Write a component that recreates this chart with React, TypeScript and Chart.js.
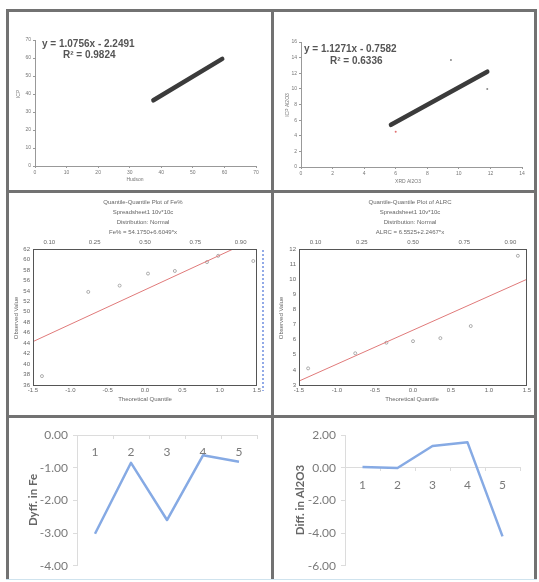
import React, { useEffect, useRef } from "react";
import { Chart, registerables } from "chart.js";

Chart.register(...registerables);

// ---------- data ----------
const feTrendX = [37.5, 59.3];
const feTrendY = [36.5, 59.5];
const feXTicks = [0, 10, 20, 30, 40, 50, 60, 70];

const alTrendX = [5.7, 11.8];
const alTrendY = [5.4, 12.2];
const alOutlierX = [9.5, 11.8];
const alOutlierY = [13.7, 10.0];
const alRedX = [6.0];
const alRedY = [4.5];

const feQQx = [-1.38, -0.76, -0.34, 0.04, 0.4, 0.83, 0.98, 1.45];
const feQQy = [37.7, 53.8, 55.0, 57.3, 57.8, 59.5, 60.7, 59.7];
const feQQLineX = [-1.5, 1.5];
const feQQLineY = [44.3, 64.1];

const alQQx = [-1.38, -0.76, -0.35, 0.0, 0.36, 0.76, 1.38];
const alQQy = [4.1, 5.1, 5.8, 5.9, 6.1, 6.9, 11.55];
const alQQLineX = [-1.5, 1.5];
const alQQLineY = [3.26, 10.0];

const probLabels = ["0.10", "0.25", "0.50", "0.75", "0.90"];
const probZ = [-1.2816, -0.6745, 0, 0.6745, 1.2816];

const diffCats = ["1", "2", "3", "4", "5"];
const feDiff = [-3.02, -0.85, -2.6, -0.62, -0.82];
const alDiff = [0.05, -0.02, 1.33, 1.55, -4.2];

// ---------- helpers ----------
const pts = (xs: number[], ys: number[]) => xs.map((x, i) => ({ x, y: ys[i] }));

type TextItem = {
  text: string;
  x: number;
  y: number;
  font: string;
  color: string;
  align?: CanvasTextAlign;
  rotate?: number;
};

const textPlugin = (items: TextItem[]) => ({
  id: "texts",
  afterDraw(chart: any) {
    const ctx = chart.ctx;
    items.forEach((t) => {
      ctx.save();
      ctx.translate(t.x, t.y);
      if (t.rotate) ctx.rotate(t.rotate);
      ctx.font = t.font;
      ctx.fillStyle = t.color;
      ctx.textAlign = t.align ?? "center";
      ctx.textBaseline = "middle";
      ctx.fillText(t.text, 0, 0);
      ctx.restore();
    });
  },
});

const framePlugin = {
  id: "frame",
  afterDraw(chart: any) {
    const { ctx, chartArea: a } = chart;
    ctx.save();
    ctx.strokeStyle = "#555";
    ctx.lineWidth = 1;
    ctx.strokeRect(a.left + 0.5, a.top + 0.5, a.right - a.left - 1, a.bottom - a.top);
    ctx.restore();
  },
};

const blueMarkPlugin = {
  id: "blueMark",
  afterDraw(chart: any) {
    const { ctx, chartArea: a } = chart;
    ctx.save();
    ctx.strokeStyle = "#6f8fe0";
    ctx.lineWidth = 1.5;
    ctx.setLineDash([2, 2]);
    ctx.beginPath();
    ctx.moveTo(a.right + 6, a.top + 1);
    ctx.lineTo(a.right + 6, a.bottom + 6);
    ctx.stroke();
    ctx.restore();
  },
};

function ChartBox(props: { left: number; top: number; width: number; height: number; make: () => any }) {
  const ref = useRef<HTMLCanvasElement>(null);
  useEffect(() => {
    const c = new Chart(ref.current as HTMLCanvasElement, props.make());
    return () => c.destroy();
  }, []);
  return (
    <canvas
      ref={ref}
      width={props.width}
      height={props.height}
      style={{ position: "absolute", left: props.left, top: props.top, width: props.width, height: props.height }}
    />
  );
}

const tinyFont = { family: "Liberation Sans", size: 5 };
const qFont = { family: "Liberation Sans", size: 6 };
const xlFont = { family: "Lato", size: 12 };

const base = {
  animation: false,
  responsive: false,
  maintainAspectRatio: false,
};

// ---------- panel configs ----------
function scatterFe() {
  return {
    type: "scatter",
    data: {
      datasets: [
        {
          type: "line",
          data: pts(feTrendX, feTrendY),
          borderColor: "#3b3b3b",
          borderWidth: 4.5,
          borderCapStyle: "round",
          pointRadius: 0,
        },
      ],
    },
    options: {
      ...base,
      layout: { padding: { left: 0, top: 28, right: 15, bottom: 0 } },
      plugins: { legend: { display: false }, tooltip: { enabled: false } },
      scales: {
        x: {
          type: "linear",
          min: 0,
          max: 70,
          afterBuildTicks: (s: any) => {
            s.ticks = feXTicks.map((v) => ({ value: v }));
          },
          ticks: { font: tinyFont, color: "#777", padding: 2 },
          grid: { drawOnChartArea: false, tickLength: 2, color: "#999" },
          border: { color: "#999" },
          afterFit: (s: any) => {
            s.height = 24;
          },
        },
        y: {
          min: 0,
          max: 70,
          ticks: { stepSize: 10, font: tinyFont, color: "#777", padding: 2 },
          grid: { drawOnChartArea: false, tickLength: 2, color: "#999" },
          border: { color: "#999" },
          afterFit: (s: any) => {
            s.width = 25;
          },
        },
      },
    },
    plugins: [
      textPlugin([
        { text: "y = 1.0756x - 2.2491", x: 32, y: 32, font: "bold 10px 'Liberation Sans'", color: "#555", align: "left" },
        { text: "R² = 0.9824", x: 53, y: 43, font: "bold 10px 'Liberation Sans'", color: "#555", align: "left" },
        { text: "Hudson", x: 125, y: 168, font: "5px 'Liberation Sans'", color: "#777" },
        { text: "ICP", x: 9, y: 82, font: "5px 'Liberation Sans'", color: "#777", rotate: -Math.PI / 2 },
      ]),
    ],
  };
}

function scatterAl() {
  return {
    type: "scatter",
    data: {
      datasets: [
        {
          type: "line",
          data: pts(alTrendX, alTrendY),
          borderColor: "#3b3b3b",
          borderWidth: 4.5,
          borderCapStyle: "round",
          pointRadius: 0,
        },
        {
          data: pts(alOutlierX, alOutlierY),
          pointRadius: 1,
          pointBackgroundColor: "#888",
          pointBorderWidth: 0,
        },
        {
          data: pts(alRedX, alRedY),
          pointRadius: 1,
          pointBackgroundColor: "#e07070",
          pointBorderWidth: 0,
        },
      ],
    },
    options: {
      ...base,
      layout: { padding: { left: 0, top: 30, right: 12, bottom: 0 } },
      plugins: { legend: { display: false }, tooltip: { enabled: false } },
      scales: {
        x: {
          type: "linear",
          min: 0,
          max: 14,
          ticks: { stepSize: 2, font: tinyFont, color: "#777", padding: 2 },
          grid: { drawOnChartArea: false, tickLength: 2, color: "#999" },
          border: { color: "#999" },
          afterFit: (s: any) => {
            s.height = 23;
          },
        },
        y: {
          min: 0,
          max: 16,
          ticks: { stepSize: 2, font: tinyFont, color: "#777", padding: 2 },
          grid: { drawOnChartArea: false, tickLength: 2, color: "#999" },
          border: { color: "#999" },
          afterFit: (s: any) => {
            s.width = 26;
          },
        },
      },
    },
    plugins: [
      textPlugin([
        { text: "y = 1.1271x - 0.7582", x: 29, y: 37, font: "bold 10px 'Liberation Sans'", color: "#555", align: "left" },
        { text: "R² = 0.6336", x: 55, y: 49, font: "bold 10px 'Liberation Sans'", color: "#555", align: "left" },
        { text: "XRD Al2O3", x: 133, y: 170, font: "5px 'Liberation Sans'", color: "#777" },
        { text: "ICP Al2O3", x: 13, y: 93, font: "5px 'Liberation Sans'", color: "#777", rotate: -Math.PI / 2 },
      ]),
    ],
  };
}

function qqConfig(opts: {
  px: number[];
  py: number[];
  lx: number[];
  ly: number[];
  ymin: number;
  ymax: number;
  ystep: number;
  yWidth: number;
  rightPad: number;
  titles: string[];
  cx: number;
  extra?: any[];
}) {
  const yt = (v: number) => String(v);
  return {
    type: "scatter",
    data: {
      datasets: [
        {
          type: "line",
          data: pts(opts.lx, opts.ly),
          borderColor: "#e07a7a",
          borderWidth: 1,
          pointRadius: 0,
        },
        {
          data: pts(opts.px, opts.py),
          pointRadius: 1.5,
          pointBackgroundColor: "rgba(0,0,0,0)",
          pointBorderColor: "#999",
          pointBorderWidth: 0.8,
        },
      ],
    },
    options: {
      ...base,
      layout: { padding: { left: 0, top: 45, right: opts.rightPad, bottom: 0 } },
      plugins: { legend: { display: false }, tooltip: { enabled: false } },
      scales: {
        x: {
          type: "linear",
          min: -1.5,
          max: 1.5,
          ticks: { stepSize: 0.5, font: qFont, color: "#666", padding: 2, callback: (v: any) => Number(v).toFixed(1) },
          grid: { drawOnChartArea: false, drawTicks: false },
          border: { display: false },
          afterFit: (s: any) => {
            s.height = 30;
          },
        },
        x2: {
          type: "linear",
          axis: "x",
          position: "top",
          min: -1.5,
          max: 1.5,
          afterBuildTicks: (s: any) => {
            s.ticks = probZ.map((v) => ({ value: v }));
          },
          ticks: { font: qFont, color: "#666", padding: 3, autoSkip: false, maxRotation: 0, callback: (_v: any, i: number) => probLabels[i] },
          grid: { drawOnChartArea: false, drawTicks: false },
          border: { display: false },
          afterFit: (s: any) => {
            s.height = 10;
          },
        },
        y: {
          min: opts.ymin,
          max: opts.ymax,
          ticks: { stepSize: opts.ystep, font: qFont, color: "#666", padding: 3, callback: yt },
          grid: { drawOnChartArea: false, drawTicks: false },
          border: { display: false },
          afterFit: (s: any) => {
            s.width = opts.yWidth;
          },
        },
      },
    },
    plugins: [
      framePlugin,
      ...(opts.extra ?? []),
      textPlugin([
        ...opts.titles.map((t, i) => ({
          text: t,
          x: opts.cx,
          y: 8 + i * 10,
          font: "6px 'Liberation Sans'",
          color: "#666",
        })),
        { text: "Theoretical Quantile", x: opts.cx + 2, y: 205, font: "6px 'Liberation Sans'", color: "#666" },
        { text: "Observed Value", x: 6, y: 124, font: "6px 'Liberation Sans'", color: "#666", rotate: -Math.PI / 2 },
      ]),
    ],
  };
}

function diffConfig(opts: { values: number[]; ymin: number; ymax: number; ystep: number; yWidth: number; title: string; tx: number }) {
  return {
    type: "line",
    data: {
      labels: diffCats,
      datasets: [
        {
          data: opts.values,
          borderColor: "#86aae4",
          borderWidth: 2.5,
          borderJoinStyle: "round",
          pointRadius: 0,
          tension: 0,
        },
      ],
    },
    options: {
      ...base,
      layout: { padding: { left: 0, top: 16, right: 14, bottom: 12 } },
      plugins: { legend: { display: false }, tooltip: { enabled: false } },
      scales: {
        x: {
          type: "category",
          position: { y: 0 },
          offset: true,
          ticks: { font: xlFont, color: "#7a7a7a", padding: 7 },
          grid: { drawOnChartArea: false, tickLength: 3, color: "#dcdcdc", offset: true },
          border: { color: "#dcdcdc" },
        },
        y: {
          min: opts.ymin,
          max: opts.ymax,
          ticks: { stepSize: opts.ystep, font: xlFont, color: "#7a7a7a", padding: 5, callback: (v: any) => Number(v).toFixed(2) },
          grid: { drawOnChartArea: false, tickLength: 4, color: "#dcdcdc" },
          border: { color: "#dcdcdc" },
          afterFit: (s: any) => {
            s.width = opts.yWidth;
          },
        },
      },
    },
    plugins: [
      textPlugin([
        { text: opts.title, x: opts.tx, y: 81, font: "bold 11.5px Lato", color: "#666", rotate: -Math.PI / 2 },
      ]),
    ],
  };
}

// ---------- layout ----------
const BORDER = "#727272";

export default function App() {
  return (
    <div style={{ position: "absolute", left: 0, top: 0, width: 539, height: 582, background: "#fff", overflow: "hidden" }}>
      <ChartBox left={10} top={12} width={261} height={178} make={scatterFe} />
      <ChartBox left={275} top={12} width={259} height={178} make={scatterAl} />
      <ChartBox
        left={10}
        top={194}
        width={261}
        height={221}
        make={() =>
          qqConfig({
            px: feQQx,
            py: feQQy,
            lx: feQQLineX,
            ly: feQQLineY,
            ymin: 36,
            ymax: 62,
            ystep: 2,
            yWidth: 23,
            rightPad: 14,
            titles: ["Quantile-Quantile Plot of Fe%", "Spreadsheet1 10v*10c", "Distribution: Normal", "Fe% = 54.1750+6.6049*x"],
            cx: 133,
            extra: [blueMarkPlugin],
          })
        }
      />
      <ChartBox
        left={275}
        top={194}
        width={259}
        height={221}
        make={() =>
          qqConfig({
            px: alQQx,
            py: alQQy,
            lx: alQQLineX,
            ly: alQQLineY,
            ymin: 3,
            ymax: 12,
            ystep: 1,
            yWidth: 24,
            rightPad: 7,
            titles: ["Quantile-Quantile Plot of ALRC", "Spreadsheet1 10v*10c", "Distribution: Normal", "ALRC = 6.5525+2.2467*x"],
            cx: 135,
          })
        }
      />
      <ChartBox
        left={10}
        top={419}
        width={261}
        height={159}
        make={() => diffConfig({ values: feDiff, ymin: -4, ymax: 0, ystep: 1, yWidth: 67, title: "Dyff. in Fe", tx: 23 })}
      />
      <ChartBox
        left={275}
        top={419}
        width={259}
        height={159}
        make={() => diffConfig({ values: alDiff, ymin: -6, ymax: 2, ystep: 2, yWidth: 70, title: "Diff. in Al2O3", tx: 25 })}
      />
      {/* frame lines */}
      <div style={{ position: "absolute", left: 6, top: 9, width: 3, height: 571, background: BORDER }} />
      <div style={{ position: "absolute", left: 534, top: 9, width: 3, height: 571, background: BORDER }} />
      <div style={{ position: "absolute", left: 6, top: 9, width: 531, height: 3, background: BORDER }} />
      <div style={{ position: "absolute", left: 271, top: 9, width: 3, height: 571, background: BORDER }} />
      <div style={{ position: "absolute", left: 6, top: 190, width: 531, height: 3, background: BORDER }} />
      <div style={{ position: "absolute", left: 6, top: 415, width: 531, height: 3, background: BORDER }} />
      <div style={{ position: "absolute", left: 6, top: 579, width: 531, height: 1, background: "#cfe3ee" }} />
    </div>
  );
}
